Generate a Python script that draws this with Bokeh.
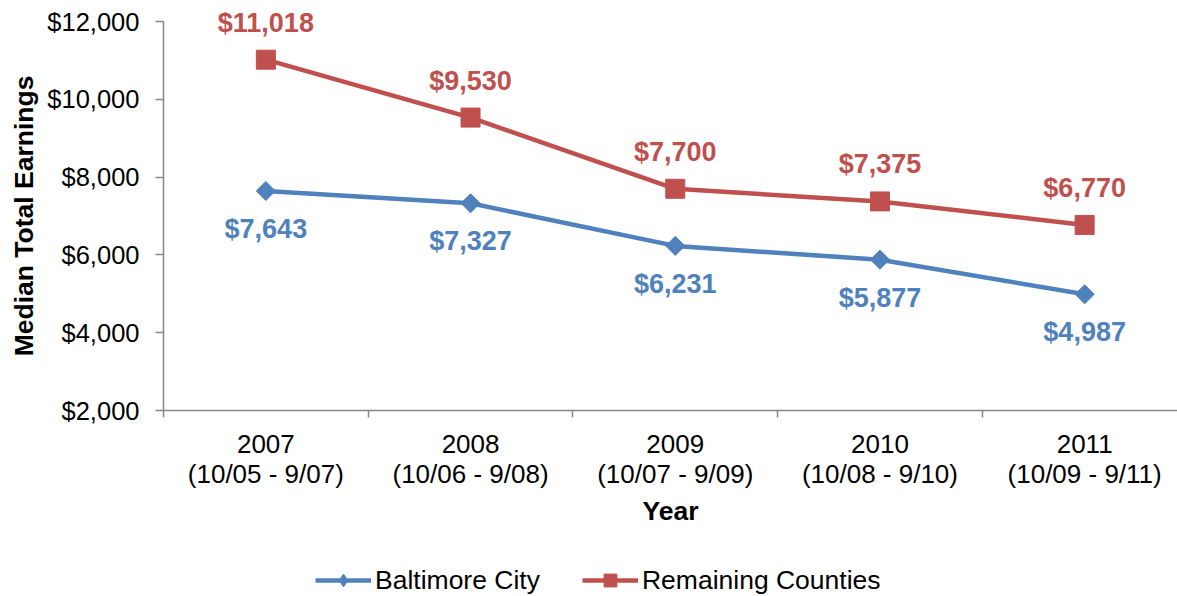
import math
from bokeh.plotting import figure
from bokeh.models import (FixedTicker, Legend, LegendItem, NumeralTickFormatter,
                          ColumnDataSource, Range1d, Label)
from bokeh.core.properties import value
from bokeh.embed import file_html
from bokeh.resources import INLINE

# ---- data ----
years = ["2007", "2008", "2009", "2010", "2011"]
periods = ["(10/05 - 9/07)", "(10/06 - 9/08)", "(10/07 - 9/09)",
           "(10/08 - 9/10)", "(10/09 - 9/11)"]
baltimore = [7643, 7327, 6231, 5877, 4987]
remaining = [11018, 9530, 7700, 7375, 6770]
y_ticks = [2000, 4000, 6000, 8000, 10000, 12000]

FONT = "Liberation Sans"
BLUE = "#4F81BD"
RED = "#C0504D"
GRAY = "#878787"

x = list(range(len(years)))
src = ColumnDataSource(dict(
    x=x, balt=baltimore, rem=remaining,
    balt_lbl=[f"${v:,}" for v in baltimore],
    rem_lbl=[f"${v:,}" for v in remaining],
))

p = figure(width=1177, height=596, output_backend="svg", toolbar_location=None,
           x_range=Range1d(-1.2963, 4.4536), y_range=Range1d(-2781.5, 12540),
           min_border_left=0, min_border_right=0, min_border_top=0,
           min_border_bottom=0)
p.outline_line_color = None
p.grid.visible = False
p.background_fill_color = "white"

lb = p.line("x", "balt", source=src, line_color=BLUE, line_width=4.5)
mb = p.scatter("x", "balt", source=src, marker="square", angle=math.pi / 4,
               size=13.5, fill_color=BLUE, line_color=BLUE)
# diamond used only for the legend swatch (legend ignores marker angle)
mb_leg = p.scatter("x", "balt", source=src, marker="diamond", size=12,
                   fill_color=BLUE, line_color=BLUE, visible=False)
lr = p.line("x", "rem", source=src, line_color=RED, line_width=4.5)
mr = p.scatter("x", "rem", source=src, marker="square", size=19,
               fill_color=RED, line_color=RED)

p.text("x", "rem", text="rem_lbl", source=src, text_font=value(FONT),
       text_font_style="bold", text_font_size="27px", text_color=RED,
       text_align="center", text_baseline="middle", y_offset=-37)
p.text("x", "balt", text="balt_lbl", source=src, text_font=value(FONT),
       text_font_style="bold", text_font_size="27px", text_color=BLUE,
       text_align="center", text_baseline="middle", y_offset=38)

# y axis (fixed at the first category boundary)
ya = p.yaxis[0]
ya.fixed_location = -0.5
ya.ticker = FixedTicker(ticks=y_ticks)
ya.formatter = NumeralTickFormatter(format="$0,0")
ya.bounds = (2000, 12000)
ya.axis_line_color = GRAY
ya.axis_line_width = 1.5
ya.major_tick_line_color = GRAY
ya.major_tick_line_width = 1.5
ya.major_tick_out = 8
ya.major_tick_in = 0
ya.minor_tick_line_color = None
ya.major_label_text_font = FONT
ya.major_label_text_font_size = "25.5px"
ya.major_label_text_color = "black"
ya.major_label_standoff = 16

# y axis title, centred on the 2000-12000 span
p.add_layout(Label(x=23, y=(y_ticks[0] + y_ticks[-1]) / 2, x_units="screen", y_units="data",
                   text="Median Total Earnings", angle=math.pi / 2,
                   text_align="center", text_baseline="middle",
                   text_font=FONT, text_font_style="bold",
                   text_font_size="26.5px", text_color="black"))

# x axis (fixed at y = 2000 inside the frame)
xa = p.xaxis[0]
xa.fixed_location = 2000
xa.bounds = (-0.5, 4.4536)
xa.ticker = FixedTicker(ticks=x, minor_ticks=[i - 0.5 for i in range(len(years) + 1)])
xa.major_label_overrides = {i: f"{yr}\n{per}" for i, (yr, per) in enumerate(zip(years, periods))}
xa.axis_line_color = GRAY
xa.axis_line_width = 1.5
xa.major_tick_line_color = None
xa.major_tick_out = 0
xa.major_tick_in = 0
xa.minor_tick_line_color = GRAY
xa.minor_tick_line_width = 1.5
xa.minor_tick_out = 7
xa.minor_tick_in = 0
xa.major_label_text_font = FONT
xa.major_label_text_font_size = "26px"
xa.major_label_text_color = "black"
xa.major_label_text_line_height = 1.03
xa.major_label_standoff = 11
xa.axis_label = "Year"
xa.axis_label_text_font = FONT
xa.axis_label_text_font_style = "bold"
xa.axis_label_text_font_size = "26.5px"
xa.axis_label_text_color = "black"
xa.axis_label_standoff = 4

legend = Legend(items=[LegendItem(label="Baltimore City", renderers=[lb, mb_leg]),
                       LegendItem(label="Remaining Counties", renderers=[lr, mr])],
                location=(315, 0), orientation="horizontal",
                glyph_width=56, glyph_height=32, label_height=32,
                label_standoff=4, spacing=42, padding=0, margin=0,
                border_line_color=None, background_fill_alpha=0,
                label_text_font=FONT, label_text_font_size="26.5px",
                label_text_color="black")
p.add_layout(legend, "center")

open("out.html", "w").write(file_html(p, INLINE))
